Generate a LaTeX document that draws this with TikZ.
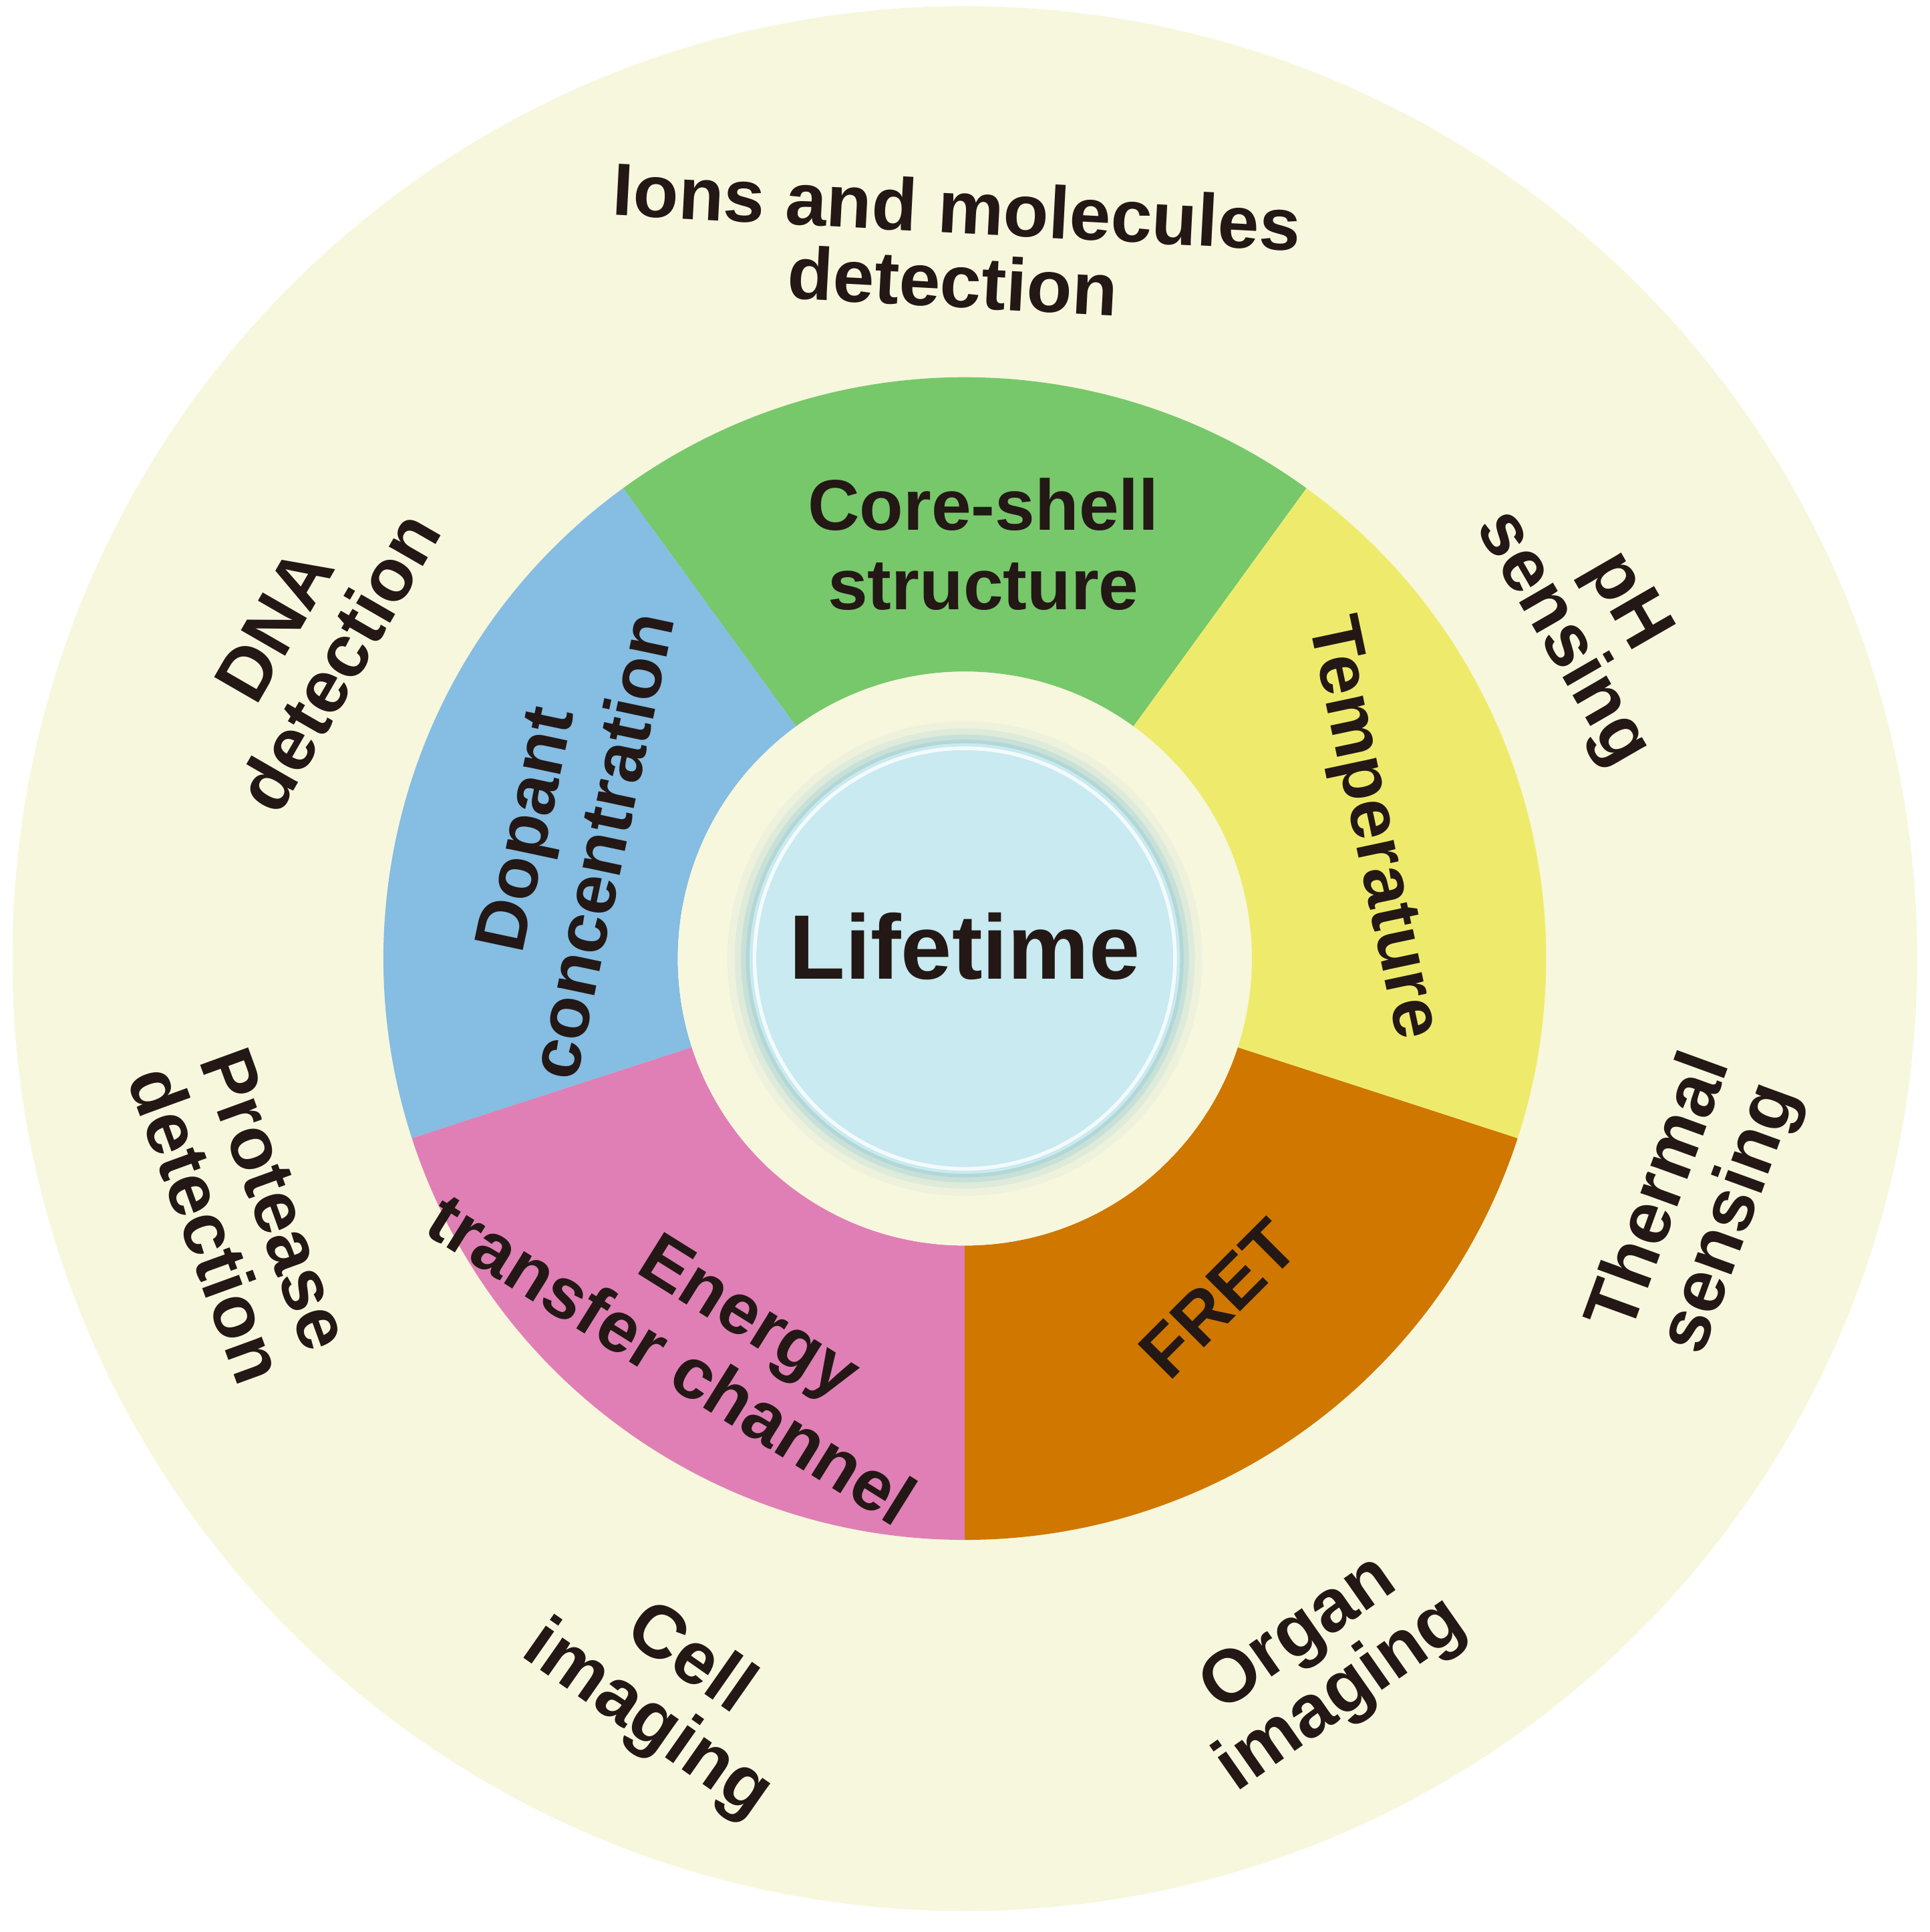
\documentclass[tikz,border=0pt]{standalone}
\usepackage{fontspec}
\setmainfont{Liberation Sans}
\usetikzlibrary{calc}
\begin{document}
\definecolor{bgY}{HTML}{F7F7DD}
\definecolor{cG}{HTML}{77C86B}
\definecolor{cB}{HTML}{85BDE3}
\definecolor{cP}{HTML}{E07FB5}
\definecolor{cO}{HTML}{D07700}
\definecolor{cY}{HTML}{EEEB6C}
\definecolor{cC}{HTML}{C8EAF0}
\definecolor{cGlow}{HTML}{9FCFD6}
\definecolor{tx}{HTML}{231815}
\begin{tikzpicture}[x=1pt,y=1pt,
  lab/.style={font=\fontsize{60}{60}\selectfont\bfseries, text=tx, align=center, inner sep=0pt},
  inl/.style={font=\fontsize{58}{64}\selectfont\bfseries, text=tx, align=center, inner sep=0pt}]
\useasboundingbox (0,0) rectangle (1560,1562);
\fill[white] (0,0) rectangle (1560,1562);
\coordinate (c) at (780,787);
\fill[bgY] (c) circle (770);
% segments
\foreach \a/\b/\col in {54/126/cG,126/198/cB,198/270/cP,270/342/cO,342/414/cY}{
  \fill[\col] ($(c)+(\a:232)$) -- ($(c)+(\a:470)$) arc (\a:\b:470) -- ($(c)+(\b:232)$) arc (\b:\a:232) -- cycle;}
\fill[bgY] (c) circle (232);
\foreach \r/\o in {192/0.10,186/0.2,181/0.35,177/0.5}{\fill[cGlow,opacity=\o] (c) circle (\r);}
\fill[cC] (c) circle (174);
\draw[white,line width=3pt,opacity=0.8] (c) circle (170);
\node[font=\fontsize{74}{78}\selectfont\bfseries,text=tx] (life) at (780,797) {Lifetime};
% inner labels
\node[inl] (cs) at (795,1122) {Core-shell\\structure};
\node[inl,rotate=78] (dop) at (455,885) {Dopant\\concentration};
\node[inl,rotate=-78] (temp) at (1108,892) {Temperature};
\node[inl,rotate=-32] (en) at (560,490) {\hspace*{1.2em}Energy\\transfer channel};
\node[inl,rotate=45] (fret) at (985,512) {FRET};
% outer labels
\node[lab,rotate=-3] (ions) at (772,1365) {Ions and molecules\\detection};
\node[lab,rotate=60] (dna) at (248,1042) {DNA\\detection};
\node[lab,rotate=-60] (ph) at (1288,1060) {pH\\sensing};
\node[lab,rotate=-70] (prot) at (195,582) {Protease\\detection};
\node[lab,rotate=70] (therm) at (1372,587) {Thermal\\sensing};
\node[lab,rotate=-35] (cell) at (540,195) {Cell\\imaging};
\node[lab,rotate=35] (org) at (1068,215) {Organ\\imaging};
\end{tikzpicture}
\end{document}
